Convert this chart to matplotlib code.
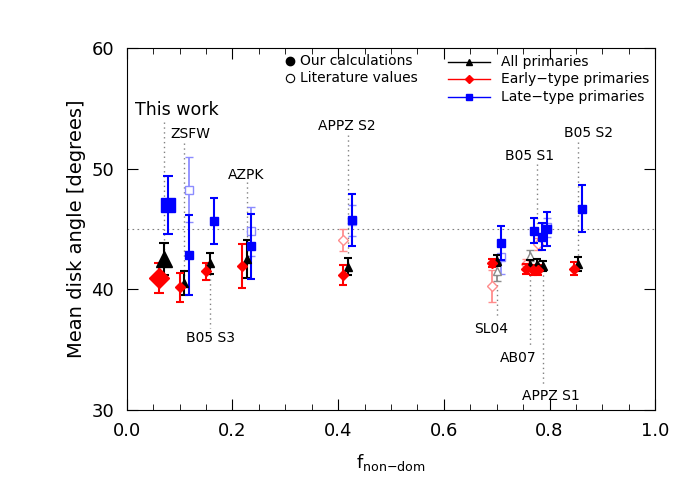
import numpy as np
import matplotlib.pyplot as plt
from matplotlib.ticker import MultipleLocator

# samples: this work first, then samples from the literature
samples = ['This work', 'ZSFW', 'B05 S3', 'AZPK', 'APPZ S2',
           'SL04', 'AB07', 'B05 S1', 'APPZ S1', 'B05 S2']
f_nondom = [0.070, 0.109, 0.158, 0.227, 0.418, 0.700, 0.763, 0.777, 0.787, 0.854]

# our calculations (degrees)
all_ang = [42.5, 40.5, 42.16, 42.5, 41.88, 42.38, 42.0, 42.08, 41.94, 42.1]
all_err = [1.3, 0.98, 0.85, 1.55, 0.72, 0.45, 0.4, 0.4, 0.4, 0.58]
early_ang = [40.95, 40.17, 41.5, 41.94, 41.2, 42.16, 41.67, 41.6, 41.6, 41.7]
early_err = [1.25, 1.2, 0.7, 1.8, 0.8, 0.35, 0.4, 0.4, 0.4, 0.55]
late_ang = [47.0, 42.85, 45.64, 43.57, 45.75, 43.87, 44.85, 44.37, 45.03, 46.66]
late_err = [2.4, 3.3, 1.9, 2.7, 2.15, 1.4, 1.05, 1.15, 1.4, 1.95]

# literature values (nan = not given)
nan = np.nan
lit_all_ang = [nan, nan, nan, nan, nan, 41.55, 42.8, nan, nan, nan]
lit_all_err = [nan, nan, nan, nan, nan, 0.85, 0.45, nan, nan, nan]
lit_early_ang = [nan, nan, nan, nan, 44.09, 40.28, 42.08, nan, 43.76, nan]
lit_early_err = [nan, nan, nan, nan, 0.9, 1.3, 0.4, nan, 0.5, nan]
lit_late_ang = [nan, 48.24, nan, 44.8, 45.7, 42.66, nan, nan, 45.14, nan]
lit_late_err = [nan, 2.7, nan, 2.0, 1.3, 1.4, nan, nan, 0.8, nan]

plt.rcParams['font.family'] = ['DejaVu Sans']

fig = plt.figure(figsize=(7, 5), dpi=100)
ax = fig.add_axes([0.181, 0.18, 0.755, 0.724])

x = np.array(f_nondom)

series = [
    (all_ang, all_err, lit_all_ang, lit_all_err, 'black', '#8c8c8c', '^', 0.0, 6, 11.5),
    (early_ang, early_err, lit_early_ang, lit_early_err, 'red', '#ff8c8c', 'D', -0.008, 5, 10.5),
    (late_ang, late_err, lit_late_ang, lit_late_err, 'blue', '#8c8cff', 's', 0.008, 5.5, 10),
]

ax.axhline(45, color='gray', ls=(0, (1.5, 3)), lw=0.8, zorder=1)

for ang, err, lang, lerr, col, lcol, mk, dx, ms, bigms in series:
    # literature values: open symbols, lighter colour
    ax.errorbar(x + dx, lang, yerr=lerr, fmt=mk, color=lcol, mfc='white',
                mec=lcol, ms=ms, capsize=3, elinewidth=1.3, mew=1, zorder=2)
    # this work: big symbol
    ax.errorbar(x[:1] + dx, ang[:1], yerr=err[:1], fmt=mk, color=col, ms=bigms,
                capsize=3.5, elinewidth=1.5, capthick=1.5, zorder=4)
    # our recalculation of the other samples
    ax.errorbar(x[1:] + dx, ang[1:], yerr=err[1:], fmt=mk, color=col, ms=ms,
                capsize=3, elinewidth=1.5, capthick=1.5, zorder=4)

# sample labels with dotted guide lines
labels = [
    ('This work', 0.094, 54.9, 53.9, 43.1, 12.5),
    ('ZSFW', 0.121, 52.85, 52.1, 41.0, 10),
    ('B05 S3', 0.159, 35.95, 41.3, 36.8, 10),
    ('AZPK', 0.225, 49.5, 48.9, 42.6, 10),
    ('APPZ S2', 0.416, 53.5, 52.8, 42.0, 10),
    ('SL04', 0.689, 36.7, 41.6, 37.6, 10),
    ('AB07', 0.740, 34.3, 41.6, 35.2, 10),
    ('B05 S1', 0.763, 51.05, 50.4, 44.6, 10),
    ('APPZ S1', 0.803, 31.15, 41.6, 32.1, 10),
    ('B05 S2', 0.874, 52.95, 52.2, 42.6, 10),
]
for (txt, tx, ty, y0, y1, fs), xi in zip(labels, x):
    ax.plot([xi, xi], [y0, y1], color='gray', ls=(0, (1, 2.5)), lw=1, zorder=1)
    ax.text(tx, ty, txt, ha='center', va='center', fontsize=fs)

# legends drawn by hand
tr = ax.transAxes
ax.plot([0.309], [0.964], 'o', color='black', ms=6, transform=tr)
ax.text(0.328, 0.964, 'Our calculations', va='center', fontsize=10, transform=tr)
ax.plot([0.309], [0.917], 'o', color='black', mfc='white', ms=6, mew=0.8, transform=tr)
ax.text(0.328, 0.917, 'Literature values', va='center', fontsize=10, transform=tr)

leg_rows = [('All primaries', 'black', '^', 0.962),
            ('Early\u2212type primaries', 'red', 'D', 0.914),
            ('Late\u2212type primaries', 'blue', 's', 0.865)]
for txt, col, mk, yy in leg_rows:
    ax.plot([0.608, 0.688], [yy, yy], color=col, lw=1, transform=tr)
    ax.plot([0.648], [yy], mk, color=col, ms=4.5, transform=tr)
    ax.text(0.708, yy, txt, va='center', fontsize=10, transform=tr)

ax.set_xlim(0, 1)
ax.set_ylim(30, 60)
ax.xaxis.set_major_locator(MultipleLocator(0.2))
ax.xaxis.set_minor_locator(MultipleLocator(0.05))
ax.yaxis.set_major_locator(MultipleLocator(10))
ax.xaxis.set_major_formatter(plt.FuncFormatter(lambda v, p: '%.1f' % v))
ax.tick_params(which='both', direction='in', top=True, right=True, labelsize=13)
ax.tick_params(which='major', length=8, pad=9)
ax.tick_params(which='minor', length=4)

ax.set_xlabel(r'$\mathregular{f_{non{-}dom}}$', fontsize=13, labelpad=8)
ax.set_ylabel('Mean disk angle [degrees]', fontsize=14, labelpad=4)

plt.savefig('out.png', dpi=100)
